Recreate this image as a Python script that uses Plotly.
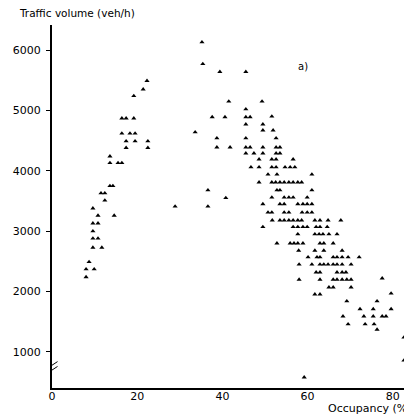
import plotly.graph_objects as go

# Occupancy (%) and traffic volume (veh/h)
occupancy = [
    22.3, 21.4, 19.2, 16.4, 17.4, 19.2, 16.4, 18.3, 19.5, 17.4, 19.5, 22.5,
    17.4, 22.5, 13.6, 13.6, 15.5, 16.4, 13.6, 14.3, 11.5, 12.4, 12.4, 9.6,
    10.8, 14.6, 9.6, 10.8, 9.6, 9.6, 10.8, 9.6, 11.7, 8.7, 8.0, 9.9, 8.0,
    28.9, 33.6, 36.6, 36.6, 40.8,
    35.2, 35.4, 39.4, 45.5,
    41.5, 49.3,
    45.5,
    37.6, 40.6, 45.5, 46.5, 51.6,
    45.5, 49.5,
    49.5, 51.9,
    38.7, 45.5, 52.6,
    38.7, 41.8, 45.5, 46.5, 49.5, 52.6, 53.5,
    45.5, 47.4, 49.5, 52.6, 53.5,
    48.6, 51.6, 52.6, 56.6,
    46.7, 48.6, 51.6, 52.6, 54.7, 55.9, 57.0,
    50.7, 52.8, 61.0,
    48.6, 51.6, 52.5, 53.5, 54.5, 55.6, 56.6, 57.7, 58.6,
    52.8, 53.5, 61.0,
    51.6, 54.5, 55.6, 56.6, 59.9,
    49.5, 53.5, 54.5, 57.7, 58.9, 59.9, 61.0,
    50.7, 51.6, 54.5, 55.6, 58.7, 59.9, 61.0,
    51.7, 53.5, 54.5, 55.6, 56.6, 57.7, 58.6, 61.7, 62.9, 64.8, 67.8,
    49.5, 56.6, 57.7, 58.9, 59.9, 62.0, 62.9, 64.6,
    57.7, 61.7, 62.7, 63.6, 65.0, 66.9,
    52.8, 55.9, 56.8, 57.7, 58.9, 62.9, 63.8, 66.0,
    57.9, 61.7, 63.8, 68.1,
    60.1, 62.2, 62.9, 66.0, 66.9, 68.1, 69.5, 72.1,
    58.0, 61.0, 62.9, 63.8, 64.8, 66.0, 66.9, 68.1, 70.2,
    62.0, 62.9, 66.9, 68.1, 69.0,
    58.0, 62.9, 66.0, 66.9, 68.1, 69.2, 70.2, 77.5,
    65.0, 66.0, 70.2,
    61.7, 62.9, 79.6,
    69.2, 76.3,
    72.3, 75.4, 79.6,
    68.3, 73.2, 75.4, 77.5, 78.4,
    69.5, 73.5, 75.6,
    76.3,
    82.6, 82.6, 59.2,
]

volume = [
    5490, 5350, 5240, 4870, 4870, 4870, 4620, 4620, 4620, 4490, 4490, 4490,
    4380, 4380, 4240, 4130, 4130, 4130, 3750, 3750, 3630, 3630, 3510, 3380,
    3260, 3260, 3130, 3130, 3000, 2880, 2880, 2730, 2730, 2490, 2370, 2370, 2240,
    3410, 4640, 3680, 3410, 3550,
    6130, 5770, 5640, 5640,
    5150, 5150,
    5020,
    4890, 4890, 4890, 4890, 4900,
    4770, 4770,
    4670, 4670,
    4540, 4540, 4540,
    4390, 4390, 4390, 4390, 4390, 4390, 4390,
    4290, 4290, 4290, 4290, 4290,
    4190, 4190, 4190, 4190,
    4060, 4060, 4060, 4060, 4060, 4060, 4060,
    3940, 3940, 3940,
    3810, 3810, 3810, 3810, 3810, 3810, 3810, 3810, 3810,
    3680, 3680, 3680,
    3560, 3560, 3560, 3560, 3560,
    3450, 3450, 3450, 3450, 3450, 3450, 3450,
    3310, 3310, 3310, 3310, 3310, 3310, 3310,
    3180, 3180, 3180, 3180, 3180, 3180, 3180, 3180, 3180, 3180, 3180,
    3070, 3070, 3070, 3070, 3070, 3070, 3070, 3070,
    2950, 2950, 2950, 2950, 2950, 2950,
    2800, 2800, 2800, 2800, 2800, 2800, 2800, 2800,
    2680, 2680, 2680, 2680,
    2570, 2570, 2570, 2570, 2570, 2570, 2570, 2570,
    2450, 2450, 2450, 2450, 2450, 2450, 2450, 2450, 2450,
    2320, 2320, 2320, 2320, 2320,
    2200, 2200, 2200, 2200, 2200, 2200, 2200, 2220,
    2070, 2070, 2070,
    1955, 1955, 1970,
    1840, 1840,
    1710, 1710, 1710,
    1590, 1590, 1590, 1590, 1590,
    1460, 1460, 1460,
    1370,
    1240, 860, 580,
]

x_ticks = [0, 20, 40, 60, 80]
y_ticks = [1000, 2000, 3000, 4000, 5000, 6000]

FONT = "DejaVu Sans"
FIG_W, FIG_H = 404, 409

fig = go.Figure()
fig.add_trace(go.Scatter(
    x=occupancy, y=volume, mode="markers",
    marker=dict(symbol="triangle-up", size=4.5, color="black", line=dict(width=0)),
    hoverinfo="skip", showlegend=False,
))

# axis break marks on the y axis
fig.add_shape(type="line", xref="x", yref="y", x0=-1.3, x1=1.3, y0=640, y1=760,
              line=dict(color="black", width=1))
fig.add_shape(type="line", xref="x", yref="y", x0=-1.3, x1=1.3, y0=720, y1=840,
              line=dict(color="black", width=1))

# page body has an 8px margin, so the figure is sized to fit the 412x417 window
fig.update_layout(
    width=FIG_W, height=FIG_H,
    margin=dict(l=44, r=0, t=17, b=29),
    paper_bgcolor="white", plot_bgcolor="white",
    font=dict(family=FONT, size=10, color="black"),
    title=dict(
        text="Traffic volume (veh/h)",
        xref="container", x=12 / FIG_W, xanchor="left",
        yref="container", y=1 - 5 / FIG_H, yanchor="middle",
        font=dict(family=FONT, size=10.5, color="black"),
    ),
    xaxis=dict(
        range=[0, 84.5], tickvals=x_ticks, ticktext=[str(v) for v in x_ticks],
        showgrid=False, zeroline=False, showline=True, linecolor="black", linewidth=2,
        ticks="", ticklabelstandoff=-3, tickfont=dict(family=FONT, size=11),
        automargin=False,
    ),
    yaxis=dict(
        range=[403, 6415], tickvals=y_ticks, ticktext=[str(v) for v in y_ticks],
        showgrid=False, zeroline=False, showline=True, linecolor="black", linewidth=2,
        ticks="outside", ticklen=4, tickwidth=1, tickcolor="black",
        ticklabelstandoff=3, tickfont=dict(family=FONT, size=11),
        automargin=False,
    ),
    annotations=[
        dict(text="Occupancy (%)", xref="paper", yref="paper",
             x=0.761, y=0, yshift=-20, xanchor="left", yanchor="middle",
             showarrow=False, font=dict(family=FONT, size=11)),
        dict(text="a)", xref="x", yref="y", x=58.8, y=5720,
             showarrow=False, font=dict(family=FONT, size=10)),
    ],
)

fig.write_html("out.html")
